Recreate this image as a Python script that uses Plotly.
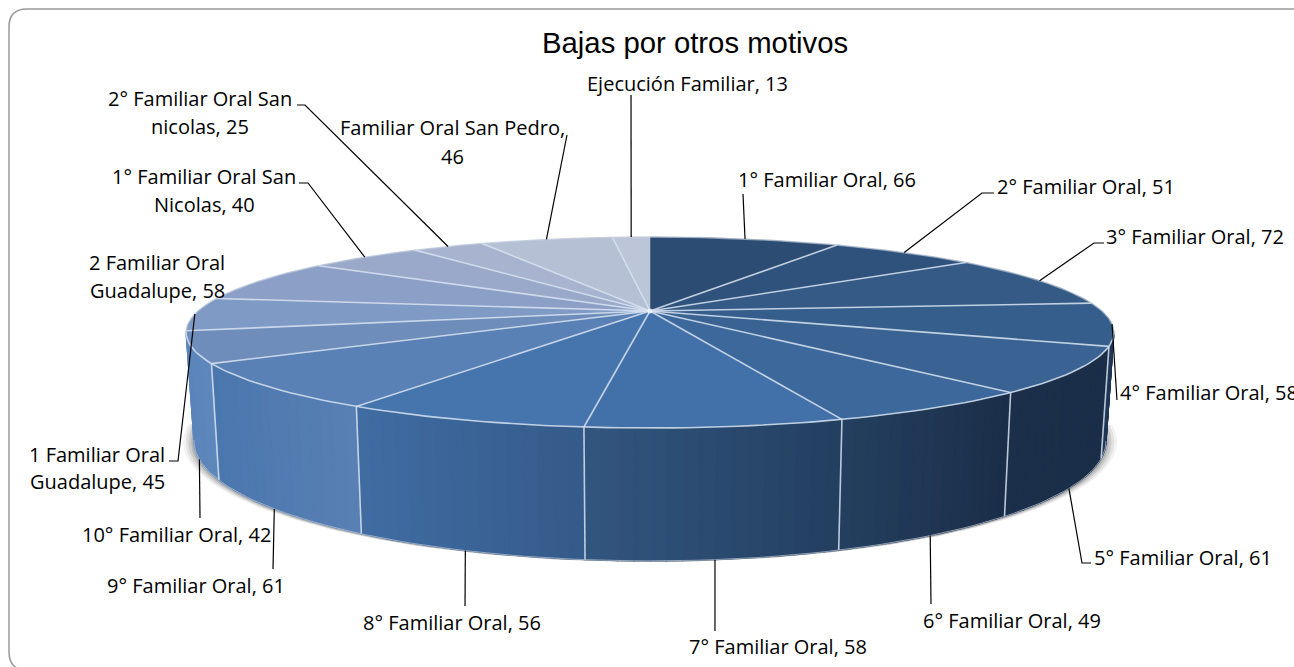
import math
import plotly.graph_objects as go

TITLE = "Bajas por otros motivos"
categories = ["1° Familiar Oral", "2° Familiar Oral", "3° Familiar Oral", "4° Familiar Oral",
              "5° Familiar Oral", "6° Familiar Oral", "7° Familiar Oral", "8° Familiar Oral",
              "9° Familiar Oral", "10° Familiar Oral", "1 Familiar Oral Guadalupe",
              "2 Familiar Oral Guadalupe", "1° Familiar Oral San Nicolas",
              "2° Familiar Oral San nicolas", "Familiar Oral San Pedro", "Ejecución Familiar"]
values = [66, 51, 72, 58, 61, 49, 58, 56, 61, 42, 45, 58, 40, 25, 46, 13]

top_colors = ["#2C4C73", "#2F527C", "#345A85", "#365E8C", "#3A6393", "#3D689B", "#4270A8", "#4674AD",
              "#5A81B6", "#6F8DBB", "#7F9AC4", "#8C9FC6", "#9AA9CA", "#A7B3CF", "#B6C0D5", "#BDC6D9"]
# wall gradient (colour at left end, colour at right end of the visible wall)
wall_colors = {3: ("#21395A", "#1E3555"), 4: ("#1B2F4A", "#1B2E48"), 5: ("#243F60", "#1B2E48"),
               6: ("#33567F", "#233F60"), 7: ("#406DA3", "#355A89"), 8: ("#4A77AE", "#5A80B4"),
               9: ("#5C85BB", "#5F88BC")}

# label lines, per category: (text, x centre, y centre)
label_lines = [
    [("1° Familiar Oral, 66", 827, 179)],
    [("2° Familiar Oral, 51", 1086, 186)],
    [("3° Familiar Oral, 72", 1195, 236)],
    [("4° Familiar Oral, 58", 1209, 392)],
    [("5° Familiar Oral, 61", 1183, 557)],
    [("6° Familiar Oral, 49", 1012, 620)],
    [("7° Familiar Oral, 58", 778, 646)],
    [("8° Familiar Oral, 56", 452, 622)],
    [("9° Familiar Oral, 61", 196, 585)],
    [("10° Familiar Oral, 42", 176, 534)],
    [("1 Familiar Oral", 97, 454), ("Guadalupe, 45", 97, 481)],
    [("2 Familiar Oral", 157, 262), ("Guadalupe, 58", 157, 290)],
    [("1° Familiar Oral San", 204, 176), ("Nicolas, 40", 204, 204)],
    [("2° Familiar Oral San", 200, 98), ("nicolas, 25", 200, 126)],
    [("Familiar Oral San Pedro,", 452, 127), ("46", 452, 156)],
    [("Ejecución Familiar, 13", 687, 83)],
]
# leader ends away from the pie (elbow points), None = no leader
leader_ends = [
    [(743, 194)], [(982, 193), (994, 193)], [(1094, 243), (1104, 243)], [(1117, 400)],
    [(1082, 563), (1091, 563)], [(931, 604)], [(715, 631)], [(465, 606)], [(273, 569)], [(200, 518)],
    [(178, 461), (169, 461)], None, [(308, 183), (299, 183)], [(305, 105), (297, 105)],
    [(567, 135)], [(631, 95)],
]
leader_from_bottom = [False, False, False, False, True, True, True, True, True, True,
                      False, False, False, False, False, False]

# projection of the pie
CX, CY, RX, RY, K, H, BOTTOM_X = 650.0, 311.0, 452.0, 90.66, 0.225, 103.0, 0.983
SEP = "rgba(215,226,240,0.85)"


def rim(deg, bottom=False, grow=1.0):
    a = math.radians(deg)
    u, v = math.sin(a), -math.cos(a)
    d = 1 - K * v
    x = RX * u / d
    y = RY * v / d
    if bottom:
        return CX + x * BOTTOM_X * grow, CY + y + H / d
    return CX + x, CY + y


def mix(c1, c2, t):
    p = [int(c1[i:i + 2], 16) for i in (1, 3, 5)]
    q = [int(c2[i:i + 2], 16) for i in (1, 3, 5)]
    return "rgb({},{},{})".format(*[round(a + (b - a) * t) for a, b in zip(p, q)])


total = sum(values)
bounds = [0.0]
for val in values:
    bounds.append(bounds[-1] + val * 360.0 / total)

WALL_MIN, WALL_MAX = 103.0, 257.5
fig = go.Figure()


def poly(xs, ys, fill, line=None, width=0.0):
    fig.add_trace(go.Scatter(x=xs, y=ys, mode="lines", fill="toself", fillcolor=fill,
                             line=dict(color=line or fill, width=width), hoverinfo="skip", showlegend=False))


def stroke(xs, ys, color, width):
    fig.add_trace(go.Scatter(x=xs, y=ys, mode="lines", line=dict(color=color, width=width),
                             hoverinfo="skip", showlegend=False))


def frange(a, b, n):
    return [a + (b - a) * i / n for i in range(n + 1)]


# soft shadow below the pie
for grow, alpha in [(1.024, 0.05), (1.018, 0.07), (1.012, 0.10), (1.006, 0.14)]:
    angs = frange(WALL_MIN - 8, WALL_MAX + 8, 120)
    pts = [rim(a, True, grow) for a in angs]
    poly([p[0] for p in pts], [p[1] + 1 for p in pts], f"rgba(20,20,20,{alpha})")

# walls
for i, (left, right) in wall_colors.items():
    a0 = max(bounds[i], WALL_MIN)
    a1 = min(bounds[i + 1], WALL_MAX)
    n = 16
    angs = frange(a0, a1, n)
    xs_all = [rim(a)[0] for a in angs]
    xl, xr = min(xs_all), max(xs_all)
    for j in range(n):
        sub = frange(angs[j], angs[j + 1], 3)
        t = [rim(a) for a in sub]
        b = [rim(a, True) for a in reversed(sub)]
        xm = (t[0][0] + t[-1][0]) / 2
        f = (xm - xl) / (xr - xl) if xr > xl else 0
        col = mix(left, right, f)
        pts = t + b + [t[0]]
        poly([p[0] for p in pts], [p[1] for p in pts], col, col, 1.2)

# wall separators and bottom rim
for i in range(3, 11):
    a = bounds[i]
    if WALL_MIN <= a <= WALL_MAX:
        p, q = rim(a), rim(a, True)
        stroke([p[0], q[0]], [p[1], q[1]], SEP, 1.6)
pts = [rim(a, True) for a in frange(WALL_MIN, WALL_MAX, 100)]
stroke([p[0] for p in pts], [p[1] for p in pts], "rgba(190,200,215,0.7)", 1)

# top face
for i in range(len(values)):
    angs = frange(bounds[i], bounds[i + 1], 40)
    pts = [rim(a) for a in angs]
    xs = [CX] + [p[0] for p in pts] + [CX]
    ys = [CY] + [p[1] for p in pts] + [CY]
    poly(xs, ys, top_colors[i], top_colors[i], 0.5)
# rim of the top face: soft at the back, clear at the front
pts = [rim(a) for a in frange(WALL_MAX, WALL_MIN + 360, 220)]
stroke([p[0] for p in pts], [p[1] for p in pts], "rgba(195,205,220,0.6)", 1.5)
pts = [rim(a) for a in frange(WALL_MIN, WALL_MAX, 120)]
stroke([p[0] for p in pts], [p[1] for p in pts], SEP, 1.6)
for i in range(1, len(values)):
    p = rim(bounds[i])
    stroke([CX, p[0]], [CY, p[1]], SEP, 1.6)
fig.add_trace(go.Scatter(x=[CX], y=[CY], mode="markers",
                         marker=dict(color="rgba(240,245,250,0.8)", size=5),
                         hoverinfo="skip", showlegend=False))

# leaders
for i, ends in enumerate(leader_ends):
    if not ends:
        continue
    mid = (bounds[i] + bounds[i + 1]) / 2
    p = rim(mid, leader_from_bottom[i])
    stroke([p[0]] + [e[0] for e in ends], [p[1]] + [e[1] for e in ends], "#000000", 1.2)

annotations = [dict(x=695, y=42, xref="x", yref="y", text=TITLE, showarrow=False,
                    font=dict(family="Liberation Sans", size=29.3, color="#000000"))]
for lines in label_lines:
    for text, x, y in lines:
        annotations.append(dict(x=x, y=y, xref="x", yref="y", text=text, showarrow=False,
                                font=dict(family="Open Sans", size=20, color="#000000")))

fig.update_layout(
    width=1294, height=667, autosize=False,
    margin=dict(l=0, r=0, t=0, b=0),
    paper_bgcolor="#FFFFFF", plot_bgcolor="#FFFFFF",
    xaxis=dict(range=[0, 1294], visible=False, fixedrange=True),
    yaxis=dict(range=[667, 0], visible=False, fixedrange=True),
    annotations=annotations,
    shapes=[dict(type="path", xref="x", yref="y", layer="below",
                 path="M 9 27 Q 9 9 27 9 L 1292 9 Q 1310 9 1310 27 L 1310 652 Q 1310 670 1292 670 "
                      "L 27 670 Q 9 670 9 652 Z",
                 line=dict(color="#9A9A9A", width=1.5), fillcolor="#FFFFFF")],
)
fig.write_html("out.html", config={"displayModeBar": False},
               post_script="document.body.style.margin='0';document.body.style.overflow='hidden';")
